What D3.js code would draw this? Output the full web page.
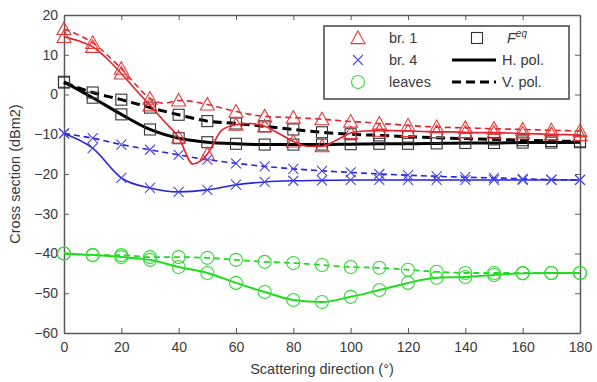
<!DOCTYPE html>
<html>
<head>
<meta charset="utf-8">
<script src="https://cdn.jsdelivr.net/npm/d3@7"></script>
<style>
  html, body { margin: 0; padding: 0; background: #fff; }
  svg { display: block; font-family: "Liberation Sans", Arial, sans-serif; }
</style>
</head>
<body>
<div id="chart"></div>
<script>
// ---------- data ----------
const angles = [0,10,20,30,40,50,60,70,80,90,100,110,120,130,140,150,160,170,180];
const anglesFine = [0,5,10,15,20,25,30,35,40,45,50,55,60,65,70,75,80,85,90,95,100,105,110,115,120,125,130,135,140,145,150,155,160,165,170,175,180];

// br. 1 (fine resolution, 5 deg)
const br1H = [14.5,13.5,12,9,5.3,1.2,-2.7,-6.8,-10.8,-17.5,-15,-9,-7.6,-7.3,-8,-9.8,-11.8,-13,-13,-11.5,-9.7,-9.2,-9.1,-9.1,-9.2,-9.3,-9.4,-9.4,-9.5,-9.6,-9.6,-9.7,-9.8,-9.9,-10,-10.1,-10.2];
const br1V = [16.5,15,13,10,6.5,2.5,-1,-2.2,-1.5,-1.8,-2.5,-3.4,-4.3,-5,-5.5,-5.7,-5.8,-6,-6.2,-6.5,-6.8,-7,-7.3,-7.5,-7.8,-8,-8.2,-8.3,-8.4,-8.5,-8.6,-8.7,-8.8,-8.9,-9,-9.1,-9.2];

// br. 4 (10 deg)
const br4H = [-9.8,-13.5,-21,-23.5,-24.5,-24,-22.7,-22,-21.7,-21.6,-21.5,-21.5,-21.5,-21.5,-21.5,-21.5,-21.5,-21.5,-21.5];
const br4V = [-9.8,-11,-12.6,-13.9,-15.2,-16.4,-17.3,-18.1,-18.7,-19.2,-19.6,-20,-20.3,-20.6,-20.8,-21,-21.2,-21.4,-21.5];

// leaves (10 deg)
const leavesH = [-40,-40.4,-40.9,-41.6,-43.4,-44.9,-47.4,-49.7,-51.7,-52.2,-50.9,-49.2,-47.4,-46.1,-45.9,-45.4,-45,-44.9,-44.9];
const leavesV = [-40,-40.4,-40.4,-40.9,-40.9,-41.1,-41.6,-42.1,-42.4,-42.9,-43.4,-43.6,-44.1,-44.6,-44.9,-44.9,-44.9,-44.9,-44.9];

// F^eq (10 deg)
const feqH = [3.2,-0.8,-5,-8.8,-11,-12,-12.4,-12.6,-12.6,-12.6,-12.5,-12.4,-12.4,-12.3,-12.2,-12.2,-12.1,-12.1,-12];
const feqV = [3,0.5,-1.3,-3.3,-5.1,-6.7,-7.3,-8,-8.8,-9.5,-10,-10.3,-10.6,-10.9,-11.1,-11.3,-11.5,-11.7,-11.8];

const xTicks = [0,20,40,60,80,100,120,140,160,180];
const yTicks = [-60,-50,-40,-30,-20,-10,0,10,20];
const legendMarkers = ["br. 1","br. 4","leaves"];
const legendLines = ["H. pol.","V. pol."];

// ---------- layout ----------
const W = 597, H = 382;
const pL = 64, pR = 580, pT = 15, pB = 333;
const x = d3.scaleLinear().domain([0,180]).range([pL,pR]);
const y = d3.scaleLinear().domain([-60,20]).range([pB,pT]);

const svg = d3.select("#chart").append("svg").attr("width",W).attr("height",H);
svg.append("rect").attr("width",W).attr("height",H).attr("fill","#fff");

const RED = "#e8202a", BLUE = "#2323e0", GREEN = "#1fdc1f", BLACK = "#000";
const frame = "#5a5a5a", textCol = "#3a3a3a";

// ---------- axes ----------
const gx = svg.append("g").attr("transform",`translate(0,${pB})`)
  .call(d3.axisBottom(x).tickValues(xTicks).tickSizeInner(-5).tickSizeOuter(0).tickPadding(9));
const gxt = svg.append("g").attr("transform",`translate(0,${pT})`)
  .call(d3.axisTop(x).tickValues(xTicks).tickSizeInner(-5).tickSizeOuter(0).tickFormat(""));
const gy = svg.append("g").attr("transform",`translate(${pL},0)`)
  .call(d3.axisLeft(y).tickValues(yTicks).tickSizeInner(-5).tickSizeOuter(0).tickPadding(6));
const gyr = svg.append("g").attr("transform",`translate(${pR},0)`)
  .call(d3.axisRight(y).tickValues(yTicks).tickSizeInner(-5).tickSizeOuter(0).tickFormat(""));
[gx,gxt,gy,gyr].forEach(g=>{
  g.selectAll("path.domain").attr("stroke",frame).attr("stroke-width",1.5);
  g.selectAll(".tick line").attr("stroke",frame).attr("stroke-width",1);
  g.selectAll(".tick text").attr("fill",textCol).attr("font-size",14)
    .attr("font-family","'Liberation Sans', Arial, sans-serif");
});

svg.append("text").attr("x",(pL+pR)/2).attr("y",374).attr("text-anchor","middle")
  .attr("font-size",14.5).attr("fill",textCol).text("Scattering direction (°)");
svg.append("text").attr("transform",`translate(20,${(pT+pB)/2}) rotate(-90)`)
  .attr("text-anchor","middle").attr("font-size",14.5).attr("fill",textCol).text("Cross section (dBm2)");

// ---------- drawing helpers ----------
const plot = svg.append("g");
function line(xs, ys, color, width, dash){
  const pts = xs.map((a,i)=>[a,ys[i]]);
  plot.append("path").datum(pts)
    .attr("d", d3.line().x(d=>x(d[0])).y(d=>y(d[1])).curve(d3.curveMonotoneX))
    .attr("fill","none").attr("stroke",color).attr("stroke-width",width)
    .attr("stroke-dasharray",dash||null);
}
function marker(g, type, cx, cy, color){
  if(type==="tri"){
    const s=7;
    g.append("path").attr("d",`M${cx},${cy-s} L${cx+s},${cy+s*0.8} L${cx-s},${cy+s*0.8} Z`)
      .attr("fill","none").attr("stroke",color).attr("stroke-width",1.1);
  } else if(type==="x"){
    const s=5;
    g.append("path").attr("d",`M${cx-s},${cy-s} L${cx+s},${cy+s} M${cx-s},${cy+s} L${cx+s},${cy-s}`)
      .attr("stroke",color).attr("stroke-width",1.1);
  } else if(type==="circ"){
    g.append("circle").attr("cx",cx).attr("cy",cy).attr("r",6.5)
      .attr("fill","none").attr("stroke",color).attr("stroke-width",1.1);
  } else if(type==="sq"){
    const s=5.5;
    g.append("rect").attr("x",cx-s).attr("y",cy-s).attr("width",2*s).attr("height",2*s)
      .attr("fill","none").attr("stroke",color).attr("stroke-width",1.1);
  }
}
function markers(xs, ys, type, color){
  const g = plot.append("g");
  xs.forEach((a,i)=>{ if(a%10===0) marker(g,type,x(a),y(ys[i]),color); });
}

// leaves
line(angles, leavesV, GREEN, 1.8, "6,4");
line(angles, leavesH, GREEN, 2);
markers(angles, leavesV, "circ", "#3ad83a");
markers(angles, leavesH, "circ", "#3ad83a");

// F^eq (black)
line(angles, feqV, BLACK, 3, "9,5");
line(angles, feqH, BLACK, 3);
markers(angles, feqV, "sq", "#333");
markers(angles, feqH, "sq", "#333");

// br. 4
line(angles, br4V, BLUE, 1.6, "6,4");
line(angles, br4H, BLUE, 1.6);
markers(angles, br4V, "x", "#4646e6");
markers(angles, br4H, "x", "#4646e6");

// br. 1
line(anglesFine, br1V, RED, 1.6, "6,4");
line(anglesFine, br1H, RED, 1.6);
markers(anglesFine, br1V, "tri", "#e43a3a");
markers(anglesFine, br1H, "tri", "#e43a3a");

// ---------- legend ----------
const lg = svg.append("g");
lg.append("rect").attr("x",324).attr("y",26).attr("width",245).attr("height",73)
  .attr("fill","#fff").attr("stroke","#444").attr("stroke-width",1.5);
const rows = [38, 60, 82];
const mtypes = [["tri","#e43a3a"],["x","#4646e6"],["circ","#3ad83a"]];
legendMarkers.forEach((t,i)=>{
  marker(lg, mtypes[i][0], 358, rows[i], mtypes[i][1]);
  lg.append("text").attr("x",389).attr("y",rows[i]+5).attr("font-size",14.5)
    .attr("fill",textCol).text(t);
});
marker(lg,"sq",477,rows[0],"#333");
const feqT = lg.append("text").attr("x",507).attr("y",rows[0]+5).attr("font-size",14.5).attr("fill",textCol);
feqT.append("tspan").attr("font-style","italic").text("F");
feqT.append("tspan").attr("dy",-6).attr("font-size",10).attr("font-style","italic").text("eq");
legendLines.forEach((t,i)=>{
  const yy = rows[i+1];
  lg.append("line").attr("x1",452).attr("x2",496).attr("y1",yy).attr("y2",yy)
    .attr("stroke",BLACK).attr("stroke-width",3).attr("stroke-dasharray", i===1 ? "9,5" : null);
  lg.append("text").attr("x",502).attr("y",yy+5).attr("font-size",14.5).attr("fill",textCol).text(t);
});
</script>
</body>
</html>
